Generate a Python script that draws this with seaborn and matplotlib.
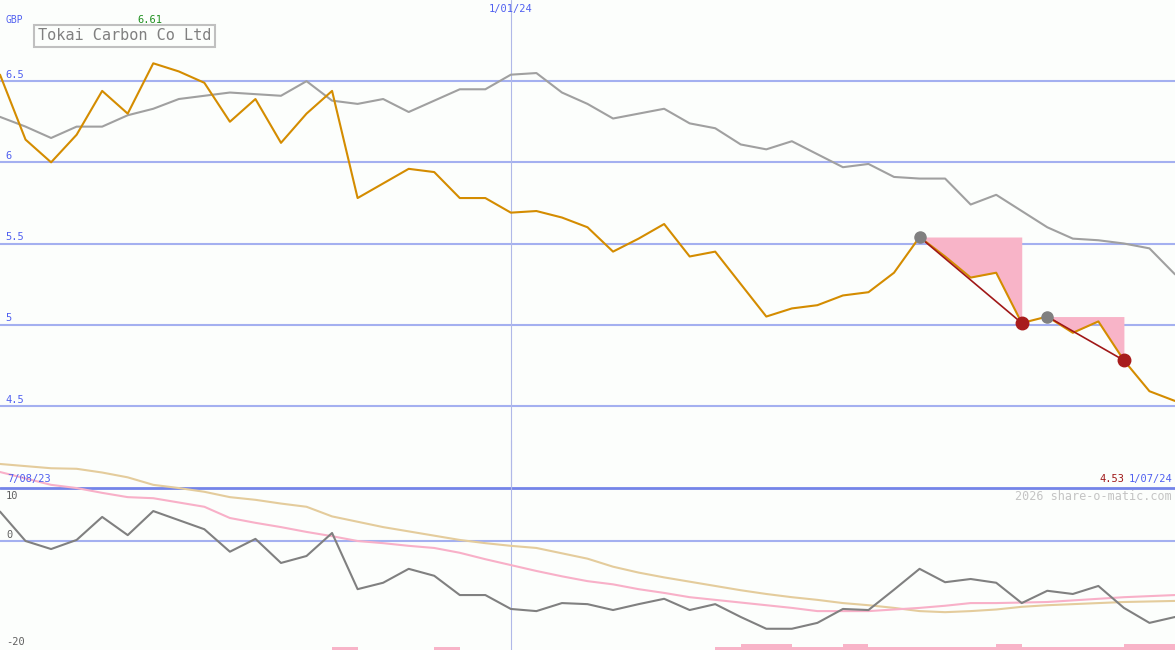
import numpy as np
import matplotlib
matplotlib.use("Agg")
import matplotlib.pyplot as plt
import seaborn as sns

# weekly closes, 7/08/23 .. 1/07/24 (GBP)
price = [6.54, 6.14, 6.00, 6.17, 6.44, 6.30, 6.61, 6.56, 6.49, 6.25,
         6.39, 6.12, 6.30, 6.44, 5.78, 5.87, 5.96, 5.94, 5.78, 5.78,
         5.69, 5.70, 5.66, 5.60, 5.45, 5.53, 5.62, 5.42, 5.45, 5.25,
         5.05, 5.10, 5.12, 5.18, 5.20, 5.32, 5.54, 5.42, 5.29, 5.32,
         5.01, 5.05, 4.95, 5.02, 4.78, 4.59, 4.53]
# slow average of price (grey)
price_avg = [6.28, 6.22, 6.15, 6.22, 6.22, 6.29, 6.33, 6.39, 6.41, 6.43,
             6.42, 6.41, 6.50, 6.38, 6.36, 6.39, 6.31, 6.38, 6.45, 6.45,
             6.54, 6.55, 6.43, 6.36, 6.27, 6.30, 6.33, 6.24, 6.21, 6.11,
             6.08, 6.13, 6.05, 5.97, 5.99, 5.91, 5.90, 5.90, 5.74, 5.80,
             5.70, 5.60, 5.53, 5.52, 5.50, 5.47, 5.31]
# lower panel: oscillator and its two averages
osc = [5.5, 0.0, -1.5, 0.2, 4.5, 1.1, 5.6, 3.9, 2.2, -2.0,
       0.4, -4.1, -2.8, 1.5, -9.0, -7.8, -5.2, -6.5, -10.1, -10.1,
       -12.7, -13.1, -11.6, -11.8, -12.9, -11.8, -10.8, -12.9, -11.8, -14.2,
       -16.4, -16.4, -15.3, -12.7, -12.9, -9.1, -5.2, -7.7, -7.1, -7.8,
       -11.6, -9.3, -9.9, -8.4, -12.5, -15.3, -14.2]
osc_slow = [14.4, 14.0, 13.6, 13.5, 12.8, 11.9, 10.5, 9.9, 9.2, 8.2,
            7.7, 7.0, 6.4, 4.6, 3.6, 2.6, 1.8, 1.0, 0.2, -0.4,
            -0.9, -1.3, -2.3, -3.3, -4.8, -5.9, -6.8, -7.6, -8.4, -9.2,
            -9.9, -10.5, -11.0, -11.6, -12.0, -12.5, -13.1, -13.3, -13.1, -12.8,
            -12.3, -12.0, -11.8, -11.6, -11.4, -11.3, -11.2]
osc_fast = [12.9, 11.7, 10.5, 9.9, 9.0, 8.2, 8.0, 7.2, 6.4, 4.3,
            3.4, 2.6, 1.7, 0.9, 0.0, -0.4, -0.9, -1.3, -2.2, -3.4,
            -4.5, -5.6, -6.6, -7.5, -8.1, -9.0, -9.7, -10.5, -11.0, -11.5,
            -12.0, -12.5, -13.1, -13.1, -13.1, -12.8, -12.5, -12.1, -11.6, -11.6,
            -11.5, -11.4, -11.1, -10.8, -10.5, -10.3, -10.1]
# little pink bars along the bottom
bars = [0, 0, 0, 0, 0, 0, 0, 0, 0, 0,
        0, 0, 0, 0.56, 0, 0, 0, 0.56, 0, 0,
        0, 0, 0, 0, 0, 0, 0, 0, 0.56, 1.12,
        1.12, 0.56, 0.56, 1.12, 0.56, 0.56, 0.56, 0.56, 0.56, 1.12,
        0.56, 0.56, 0.56, 0.56, 1.12, 1.12, 0]
# falling-trend segments (start index, end index)
drops = [(36, 40), (41, 44)]
price_ticks = [4.5, 5, 5.5, 6, 6.5]
idx = np.arange(len(price))

BG = "#fcfefc"
GRID = "#a4b0f0"
BLUE_TXT = "#5060f0"
MONO = "DejaVu Sans Mono"

sns.set_style("white", rc={"axes.facecolor": BG, "figure.facecolor": BG})
plt.rcParams["font.family"] = [MONO]

W, H = 1175, 650
fig = plt.figure(figsize=(W / 100, H / 100), dpi=100)

def px(x, y):
    return x / W, 1 - y / H

# price panel: pixel rows 0..487
ax = fig.add_axes([0, 1 - 487 / H, 1, 487 / H])
ax.set_xlim(0, len(price) - 1)
ax.set_ylim(4.0, 7.0)
ax.axis("off")
for t in price_ticks:
    ax.axhline(t, color=GRID, lw=1.5, zorder=1)
    ax.text(0.2, t + 0.008, f"{t:g}", color=BLUE_TXT, fontsize=7.5, va="bottom", ha="left")
ax.axvline(20, color="#b0b8e8", lw=0.8, zorder=1)

sns.lineplot(x=idx, y=price_avg, ax=ax, color="#a0a0a0", lw=1.5, zorder=2)
for a, b in drops:
    seg = idx[a:b + 1]
    ax.fill_between(seg, [price[i] for i in seg], price[a], color="#f8b4c8", lw=0, zorder=2)
sns.lineplot(x=idx, y=price, ax=ax, color="#d48c00", lw=1.5, zorder=3)
for a, b in drops:
    ax.plot([a, b], [price[a], price[b]], color="#a01818", lw=1.2, zorder=4)
    ax.plot(a, price[a], "o", ms=8, color="#808080", zorder=5)
    ax.plot(b, price[b], "o", ms=9, color="#a81c1c", zorder=5)

# oscillator panel: pixel rows 440..650, 0 at row 541
ax2 = fig.add_axes([0, 0, 1, 210 / H])
ax2.set_xlim(0, len(price) - 1)
ax2.set_ylim(-20.37, 18.88)
ax2.axis("off")
ax2.patch.set_alpha(0)
ax2.axhline(10, color="#7484e8", lw=2, zorder=1)
ax2.axhline(0, color=GRID, lw=1.5, zorder=1)
ax2.axvline(20, color="#b0b8e8", lw=0.8, zorder=1)
ax2.bar(idx, bars, width=1, align="edge", bottom=-20.37, color="#f8b4c8", lw=0, zorder=2)
sns.lineplot(x=idx, y=osc_slow, ax=ax2, color="#e4cc9c", lw=1.5, zorder=3)
sns.lineplot(x=idx, y=osc_fast, ax=ax2, color="#f8b0c8", lw=1.5, zorder=3)
sns.lineplot(x=idx, y=osc, ax=ax2, color="#808080", lw=1.5, zorder=4)

# labels
fig.text(*px(6, 20), "GBP", color=BLUE_TXT, fontsize=7, va="center", ha="left")
fig.text(*px(137, 20), "6.61", color="#209020", fontsize=7.5, va="center", ha="left")
fig.text(*px(38, 36), "Tokai Carbon Co Ltd", color="#808080", fontsize=11, va="center", ha="left",
         bbox=dict(boxstyle="square,pad=0.25", fc=BG, ec="#c0c0c0", lw=1.5))
fig.text(*px(511, 9), "1/01/24", color=BLUE_TXT, fontsize=7.5, va="center", ha="center")
fig.text(*px(7, 479), "7/08/23", color=BLUE_TXT, fontsize=7.5, va="center", ha="left", zorder=0)
fig.text(*px(1124, 479), "4.53", color="#a01818", fontsize=7.5, va="center", ha="right")
fig.text(*px(1172, 479), "1/07/24", color=BLUE_TXT, fontsize=7.5, va="center", ha="right")
fig.text(*px(1172, 496), "2026 share-o-matic.com", color="#c4c4c4", fontsize=8.5,
         va="center", ha="right")
fig.text(*px(6, 496), "10", color="#606060", fontsize=7.5, va="center", ha="left")
fig.text(*px(6, 535), "0", color="#606060", fontsize=7.5, va="center", ha="left")
fig.text(*px(6, 642), "-20", color="#606060", fontsize=7.5, va="center", ha="left")

fig.savefig("out.png", dpi=100, facecolor=BG)
